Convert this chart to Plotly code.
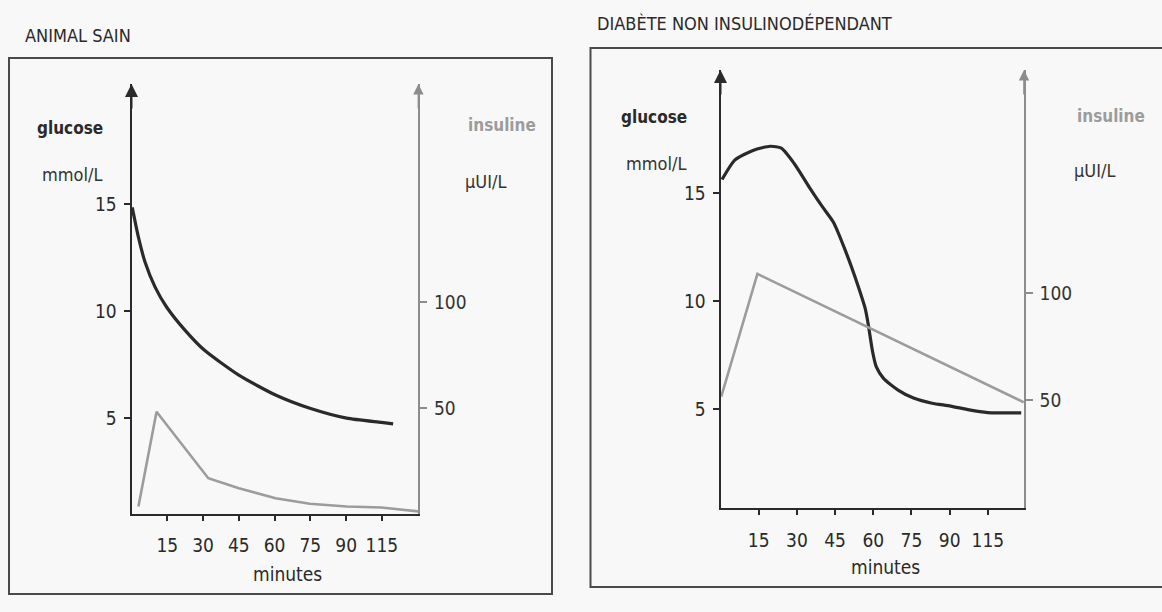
import plotly.graph_objects as go

W, H = 1162, 612

# ---------------- data ----------------
titles = ["ANIMAL SAIN", "DIABÈTE NON INSULINODÉPENDANT"]

# Animal sain
t_sain_glu = [0.3, 2.9, 5.7, 9.9, 14.7, 22.4, 30.5, 45.0, 60.4, 74.8, 90.2, 104.8, 109.7]
glu_sain = [14.84, 13.45, 12.28, 11.12, 10.19, 9.11, 8.18, 7.01, 6.08, 5.46, 5.0, 4.8, 4.73]
t_sain_ins = [2.9, 10.5, 32.2, 45.0, 60.4, 74.8, 90.2, 104.8, 120.2]
ins_sain = [3.9, 48.4, 17.2, 12.5, 7.8, 5.2, 3.9, 3.4, 1.6]

# Diabète non insulinodépendant
t_dnid_glu = [0.6, 5.7, 13.0, 19.6, 23.9, 29.0, 34.9, 40.0, 44.4, 49.5, 53.9, 56.8,
              58.0, 59.7, 61.2, 64.1, 69.9, 75.8, 83.1, 90.4, 97.7, 105.0, 118.1]
glu_dnid = [15.63, 16.54, 16.99, 17.17, 17.08, 16.36, 15.27, 14.37, 13.64, 12.2, 10.75, 9.67,
            8.94, 7.68, 6.95, 6.41, 5.87, 5.51, 5.27, 5.14, 4.96, 4.84, 4.82]
t_dnid_ins = [0.3, 14.5, 119.1]
ins_dnid = [51.8, 109.1, 49.1]

x_tickvals = [15, 30, 45, 60, 75, 90, 105]
x_ticktext = ["15", "30", "45", "60", "75", "90", "115"]
glu_ticks = [5, 10, 15]
ins_ticks = [50, 100]

# ---------------- styling ----------------
FONT = "DejaVu Sans Condensed, Liberation Sans Narrow, sans-serif"
DARK = "#2a2a2a"
GREY = "#9c9c9c"
BG = "#f8f8f8"


def px(x):
    return x / W


def py(y):
    return 1 - y / H


# panel geometry in pixels
panels = [
    dict(x0=131.5, x1=418.4, ybase=513.5, ytop=84, xr=[0, 120.3],
         gr=[0.55, 20.6], ir=[0.6, 202.5]),
    dict(x0=720.5, x1=1024, ybase=508, ytop=70, xr=[0, 119.2],
         gr=[0.42, 20.7], ir=[-0.3, 204.4]),
]

fig = go.Figure()

series = [
    (t_sain_glu, glu_sain, t_sain_ins, ins_sain),
    (t_dnid_glu, glu_dnid, t_dnid_ins, ins_dnid),
]

for k, (tg, g, ti, ins) in enumerate(series):
    xa = "x" if k == 0 else "x2"
    ya = "y" if k == 0 else "y3"
    yb = "y2" if k == 0 else "y4"
    fig.add_trace(go.Scatter(x=ti, y=ins, xaxis=xa, yaxis=yb, mode="lines",
                             line=dict(color=GREY, width=2.6), hoverinfo="skip",
                             showlegend=False, cliponaxis=False))
    fig.add_trace(go.Scatter(x=tg, y=g, xaxis=xa, yaxis=ya, mode="lines",
                             line=dict(color=DARK, width=3.2, shape="spline", smoothing=0.6),
                             hoverinfo="skip", showlegend=False, cliponaxis=False))

layout = dict(
    width=W, height=H, margin=dict(l=0, r=0, t=0, b=0),
    paper_bgcolor=BG, plot_bgcolor="rgba(0,0,0,0)",
    font=dict(family=FONT, size=18, color=DARK),
    showlegend=False,
)

for k, p in enumerate(panels):
    xs = "" if k == 0 else "2"
    yg = "" if k == 0 else "3"
    yi = "2" if k == 0 else "4"
    xdom = [px(p["x0"]), px(p["x1"])]
    ydom = [py(p["ybase"]), py(p["ytop"])]
    layout["xaxis" + xs] = dict(
        domain=xdom, range=p["xr"], anchor="y" + yg,
        showline=True, linecolor=DARK, linewidth=2,
        showgrid=False, zeroline=False,
        tickmode="array", tickvals=x_tickvals, ticktext=x_ticktext,
        ticks="outside", ticklen=5, tickwidth=2, tickcolor=DARK,
        ticklabelstandoff=9,
        tickfont=dict(family=FONT, size=19, color=DARK),
    )
    layout["yaxis" + yg] = dict(
        domain=ydom, range=p["gr"], anchor="x" + xs,
        showline=True, linecolor=DARK, linewidth=2,
        showgrid=False, zeroline=False,
        tickmode="array", tickvals=glu_ticks,
        ticks="outside", ticklen=6, tickwidth=1.5, tickcolor=DARK,
        ticklabelstandoff=3,
        tickfont=dict(family=FONT, size=19, color=DARK),
    )
    layout["yaxis" + yi] = dict(
        domain=ydom, range=p["ir"], anchor="x" + xs,
        overlaying="y" + yg, side="right",
        showline=True, linecolor="#8c8c8c", linewidth=1.6,
        showgrid=False, zeroline=False,
        tickmode="array", tickvals=ins_ticks,
        ticks="outside", ticklen=7, tickwidth=1.5, tickcolor="#8c8c8c",
        ticklabelstandoff=3,
        tickfont=dict(family=FONT, size=19, color="#333333"),
    )

fig.update_layout(**layout)

# frames
frames = [(9, 58, 552, 594), (590.5, 48, 1175, 587)]
for (x0, y0, x1, y1) in frames:
    fig.add_shape(type="rect", xref="paper", yref="paper",
                  x0=px(x0), x1=px(x1), y0=py(y1), y1=py(y0),
                  line=dict(color="#4a4a4a", width=2), fillcolor="rgba(0,0,0,0)",
                  layer="below")

# axis arrows
for k, p in enumerate(panels):
    xa = "x" if k == 0 else "x2"
    ya = "y" if k == 0 else "y3"
    yb = "y2" if k == 0 else "y4"
    fig.add_annotation(x=p["xr"][0], y=p["gr"][1], xref=xa, yref=ya, text="",
                       showarrow=True, ax=0, ay=26, arrowhead=2, arrowsize=1.3,
                       arrowwidth=2, arrowcolor=DARK)
    fig.add_annotation(x=p["xr"][1], y=p["ir"][1], xref=xa, yref=yb, text="",
                       showarrow=True, ax=0, ay=26, arrowhead=2, arrowsize=1.3,
                       arrowwidth=1.6, arrowcolor="#8c8c8c")

# texts (pixel positions -> paper)
texts = [
    (titles[0], 23, 35, "left", 18, DARK, False),
    (titles[1], 595, 24, "left", 18, DARK, False),
    ("glucose", 35, 128, "left", 17, DARK, True),
    ("mmol/L", 40, 174, "left", 18, "#333333", False),
    ("insuline", 466, 125, "left", 17, GREY, True),
    ("µUI/L", 463, 181, "left", 18, "#333333", False),
    ("minutes", 287, 574, "center", 19, DARK, False),
    ("glucose", 619, 117, "left", 17, DARK, True),
    ("mmol/L", 624, 164, "left", 18, "#333333", False),
    ("insuline", 1075, 116, "left", 17, GREY, True),
    ("µUI/L", 1072, 170, "left", 18, "#333333", False),
    ("minutes", 885, 567, "center", 19, DARK, False),
]
for (txt, x, y, anchor, size, color, bold) in texts:
    fig.add_annotation(x=px(x), y=py(y), xref="paper", yref="paper",
                       text=("<b>%s</b>" % txt) if bold else txt,
                       showarrow=False, xanchor=anchor, yanchor="middle",
                       font=dict(family=FONT, size=size, color=color))

fig.write_html(
    "out.html",
    config={"displayModeBar": False},
    post_script="document.body.style.margin='0';document.body.style.background='%s';" % BG,
)
